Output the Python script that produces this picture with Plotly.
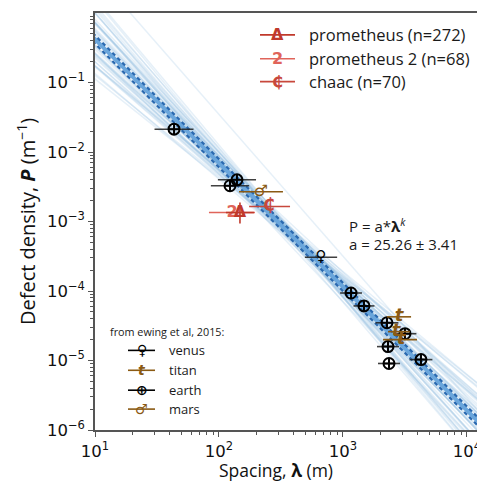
import numpy as np
import plotly.graph_objects as go

# ---------------- data ----------------
fit_a = 25.26
fit_a_err = 3.41
fit_k = -1.78

# bootstrap-like sample lines: slope k and log10(P) at lambda = 10**2.5
sample_k = [-1.78, -1.80, -1.75, -1.85, -1.70, -1.90, -1.65, -1.95, -1.60, -2.00,
            -1.55, -2.05, -1.50, -1.82, -1.74, -1.88, -1.68, -1.92, -1.62, -1.98,
            -1.58, -2.10, -1.45, -1.77, -1.79, -1.86, -1.72, -2.04, -1.66, -1.90,
            -1.83, -1.71, -1.87, -1.64, -1.94, -1.52, -2.02, -1.76, -1.81, -1.69,
            -2.14, -1.42, -2.08, -1.48, -2.12, -1.56, -1.97, -1.61, -2.06, -1.53]
sample_logp = [-3.05, -3.02, -3.08, -3.03, -3.07, -3.00, -3.10, -3.05, -3.05, -3.00,
               -3.10, -3.07, -3.01, -3.11, -2.99, -3.09, -3.00, -2.97, -3.13, -3.11,
               -2.98, -3.03, -3.07, -2.95, -3.15, -2.93, -3.17, -2.48, -2.90, -3.20,
               -2.97, -3.05, -3.05, -3.03, -3.07, -3.15, -2.95, -3.01, -3.07, -3.12,
               -3.02, -3.08, -3.12, -2.98, -2.96, -3.04, -3.09, -3.00, -3.04, -3.06]

earth_lam = [43.4, 139.6, 122.7, 1161, 1477, 2264, 3162, 2307, 2350, 4256]
earth_P = [2.13e-2, 3.98e-3, 3.27e-3, 9.36e-5, 6.10e-5, 3.49e-5, 2.43e-5, 1.585e-5, 9.06e-6, 1.03e-5]
earth_lo = [30.2, 98.0, 86.0, 948, 1216, 1830, 2557, 1880, 1915, 3440]
earth_hi = [62.3, 198.9, 175.0, 1423, 1793, 2800, 3910, 2830, 2885, 5260]

venus_lam = [665]
venus_P = [3.06e-4]
venus_lo = [493]
venus_hi = [897]

titan_lam = [2831, 2673, 2938]
titan_P = [4.25e-5, 2.60e-5, 2.0e-5]
titan_lo = [2265, 2307, 2104]
titan_hi = [3540, 3467, 3954]

mars_lam = [218]
mars_P = [2.68e-3]
mars_lo = [145]
mars_hi = [328]

prom_lam = [147.6]
prom_P = [1.345e-3]
prom_lo = [113.8]
prom_hi = [191.4]
prom_P_lo = [9.36e-4]
prom_P_hi = [1.87e-3]

prom2_lam = [127.4]
prom2_P = [1.345e-3]
prom2_lo = [83.0]
prom2_hi = [195.0]

chaac_lam = [253]
chaac_P = [1.64e-3]
chaac_lo = [175]
chaac_hi = [374]

legend_top = ["prometheus (n=272)", "prometheus 2 (n=68)", "chaac (n=70)"]
legend_bottom = ["venus", "titan", "earth", "mars"]
legend_bottom_title = "from ewing et al, 2015:"
x_title = "Spacing, <b>\u03bb</b> (m)"
y_title = "Defect density, <b><i>P</i></b> (m<sup>\u22121</sup>)"
xtick_vals = [1e1, 1e2, 1e3, 1e4]
xtick_text = ["10<sup>1</sup>", "10<sup>2</sup>", "10<sup>3</sup>", "10<sup>4</sup>"]
ytick_vals = [1e-6, 1e-5, 1e-4, 1e-3, 1e-2, 1e-1]
ytick_text = ["10<sup>\u22126</sup>", "10<sup>\u22125</sup>", "10<sup>\u22124</sup>",
              "10<sup>\u22123</sup>", "10<sup>\u22122</sup>", "10<sup>\u22121</sup>"]

# ---------------- styles ----------------
XR = [1, 4.105]
YR = [-6, 0]
BROWN = "#8a5a14"
RED1 = "#c0392b"
RED2 = "#e0645a"
RED3 = "#c8483c"
TXT = "Open Sans"
OFF = 8  # default page body margin

fig = go.Figure()

xs = np.logspace(XR[0] - 0.1, XR[1] + 0.1, 2)
for k, lp in zip(sample_k, sample_logp):
    a = 10 ** (lp - k * 2.5)
    fig.add_trace(go.Scatter(x=xs, y=a * xs ** k, mode="lines",
                             line=dict(color="rgba(130,180,220,0.2)", width=1.5),
                             hoverinfo="skip", showlegend=False))

# fit line and +/- a bounds
fig.add_trace(go.Scatter(x=xs, y=fit_a * xs ** fit_k, mode="lines",
                         line=dict(color="#6aa6dc", width=4), showlegend=False))
for sgn in (1, -1):
    fig.add_trace(go.Scatter(x=xs, y=(fit_a + sgn * fit_a_err) * xs ** fit_k, mode="lines",
                             line=dict(color="#2a69b0", width=2.2, dash="4px,3px"),
                             showlegend=False))


def errx(lam, lo, hi, color, width=1.6):
    return dict(type="data", symmetric=False,
                array=[h - l for h, l in zip(hi, lam)],
                arrayminus=[l - o for l, o in zip(lam, lo)],
                color=color, thickness=width, width=0)


def text_trace(lam, P, lo, hi, glyph, color, size, bold=True, ecolor=None, erry=None):
    t = [("<b>%s</b>" % glyph) if bold else glyph] * len(lam)
    tr = go.Scatter(x=lam, y=P, mode="text", text=t, textposition="middle center",
                    textfont=dict(family="DejaVu Sans", size=size, color=color),
                    error_x=errx(lam, lo, hi, ecolor or color), showlegend=False)
    if erry is not None:
        tr.error_y = erry
    return tr


# ewing et al points
fig.add_trace(go.Scatter(x=earth_lam, y=earth_P, mode="markers",
                         marker=dict(symbol="circle-cross-open", size=11, color="black",
                                     line=dict(width=2, color="black")),
                         error_x=errx(earth_lam, earth_lo, earth_hi, "rgba(30,30,30,0.85)"),
                         showlegend=False))
fig.add_trace(text_trace(venus_lam, venus_P, venus_lo, venus_hi, "\u2640", "black", 15,
                         ecolor="rgba(30,30,30,0.85)"))
fig.add_trace(text_trace(titan_lam, titan_P, titan_lo, titan_hi, "<i>t</i>", BROWN, 18))
fig.add_trace(text_trace(mars_lam, mars_P, mars_lo, mars_hi, "\u2642", BROWN, 16))

# red points
fig.add_trace(text_trace(prom2_lam, prom2_P, prom2_lo, prom2_hi, "2", RED2, 16))
fig.add_trace(text_trace(prom_lam, prom_P, prom_lo, prom_hi, "\u0394", RED1, 16,
                         erry=dict(type="data", symmetric=False,
                                   array=[h - p for h, p in zip(prom_P_hi, prom_P)],
                                   arrayminus=[p - l for p, l in zip(prom_P, prom_P_lo)],
                                   color=RED1, thickness=1.6, width=0)))
fig.add_trace(text_trace(chaac_lam, chaac_P, chaac_lo, chaac_hi, "\u20b5", RED3, 17))

# ---------------- manual legends ----------------
W0, W1, H0, H1 = 95, 480, 11, 430  # plot area in window pixels


def px(x):
    return (x - W0) / (W1 - W0)


def py(y):
    return (H1 - y) / (H1 - H0)


shapes = []
annots = []
top_rows = [33, 57, 80]
top_cols = [RED1, RED2, RED3]
top_glyph = ["<b>\u0394</b>", "<b>2</b>", "<b>\u20b5</b>"]
for lbl, yy, c, g in zip(legend_top, top_rows, top_cols, top_glyph):
    shapes.append(dict(type="line", xref="paper", yref="paper", x0=px(260), x1=px(295),
                       y0=py(yy), y1=py(yy), line=dict(color=c, width=1.6)))
    annots.append(dict(xref="paper", yref="paper", x=px(277.5), y=py(yy), text=g,
                       showarrow=False, font=dict(family="DejaVu Sans", size=16, color=c),
                       xanchor="center", yanchor="middle"))
    annots.append(dict(xref="paper", yref="paper", x=px(307), y=py(yy), text=lbl,
                       showarrow=False, font=dict(family=TXT, size=16.5, color="#1a1a1a"),
                       xanchor="left", yanchor="middle"))

annots.append(dict(xref="paper", yref="paper", x=px(167), y=py(331), text=legend_bottom_title,
                   showarrow=False, font=dict(family=TXT, size=10.8, color="#1a1a1a"),
                   xanchor="center", yanchor="middle"))
bot_rows = [350, 370, 390, 409]
bot_cols = ["black", BROWN, "black", BROWN]
bot_glyph = ["<b>\u2640</b>", "<b><i>t</i></b>", "<b>\u2295</b>", "<b>\u2642</b>"]
for lbl, yy, c, g in zip(legend_bottom, bot_rows, bot_cols, bot_glyph):
    shapes.append(dict(type="line", xref="paper", yref="paper", x0=px(128), x1=px(155),
                       y0=py(yy), y1=py(yy), line=dict(color=c, width=1.6)))
    annots.append(dict(xref="paper", yref="paper", x=px(141.5), y=py(yy), text=g,
                       showarrow=False, font=dict(family="DejaVu Sans", size=14, color=c),
                       xanchor="center", yanchor="middle"))
    annots.append(dict(xref="paper", yref="paper", x=px(167), y=py(yy), text=lbl,
                       showarrow=False, font=dict(family=TXT, size=13, color="#1a1a1a"),
                       xanchor="left", yanchor="middle"))

annots.append(dict(xref="paper", yref="paper", x=px(347), y=py(225),
                   text="P = a*<b>\u03bb</b><sup><i>k</i></sup>",
                   showarrow=False, font=dict(family=TXT, size=15, color="#1a1a1a"),
                   xanchor="left", yanchor="middle"))
annots.append(dict(xref="paper", yref="paper", x=px(347), y=py(243),
                   text="a = %.2f \u00b1 %.2f" % (fit_a, fit_a_err),
                   showarrow=False, font=dict(family=TXT, size=15, color="#1a1a1a"),
                   xanchor="left", yanchor="middle"))

# x axis title (as annotation to match its position)
annots.append(dict(xref="paper", yref="paper", x=px(276), y=py(470), text=x_title,
                   showarrow=False, font=dict(family=TXT, size=17.5, color="#111"),
                   xanchor="center", yanchor="middle"))

minor_x = [m * 10 ** d for d in range(1, 5) for m in range(2, 10)]
minor_y = [m * 10 ** d for d in range(-6, 0) for m in range(2, 10)]

axis_common = dict(type="log", showgrid=False, zeroline=False, showline=True,
                   linecolor="#555", linewidth=1.5, mirror=True, ticks="outside",
                   ticklen=5, tickwidth=1.2, tickcolor="#555",
                   tickfont=dict(family="DejaVu Sans", size=16.5, color="#111"))

fig.update_layout(
    width=485 - OFF, height=481 - OFF, autosize=False,
    margin=dict(l=W0 - OFF, r=485 - W1, t=H0 - OFF, b=481 - H1),
    plot_bgcolor="white", paper_bgcolor="white",
    shapes=shapes, annotations=annots, showlegend=False,
    xaxis=dict(range=XR, tickvals=xtick_vals, ticktext=xtick_text,
               minor=dict(tickvals=minor_x, ticks="outside", ticklen=3, tickcolor="#555"),
               **axis_common),
    yaxis=dict(range=YR, tickvals=ytick_vals, ticktext=ytick_text,
               minor=dict(tickvals=minor_y, ticks="outside", ticklen=3, tickcolor="#555"),
               title=dict(text=y_title, standoff=6,
                          font=dict(family=TXT, size=20, color="#111")),
               **axis_common),
)

fig.write_html("out.html")
